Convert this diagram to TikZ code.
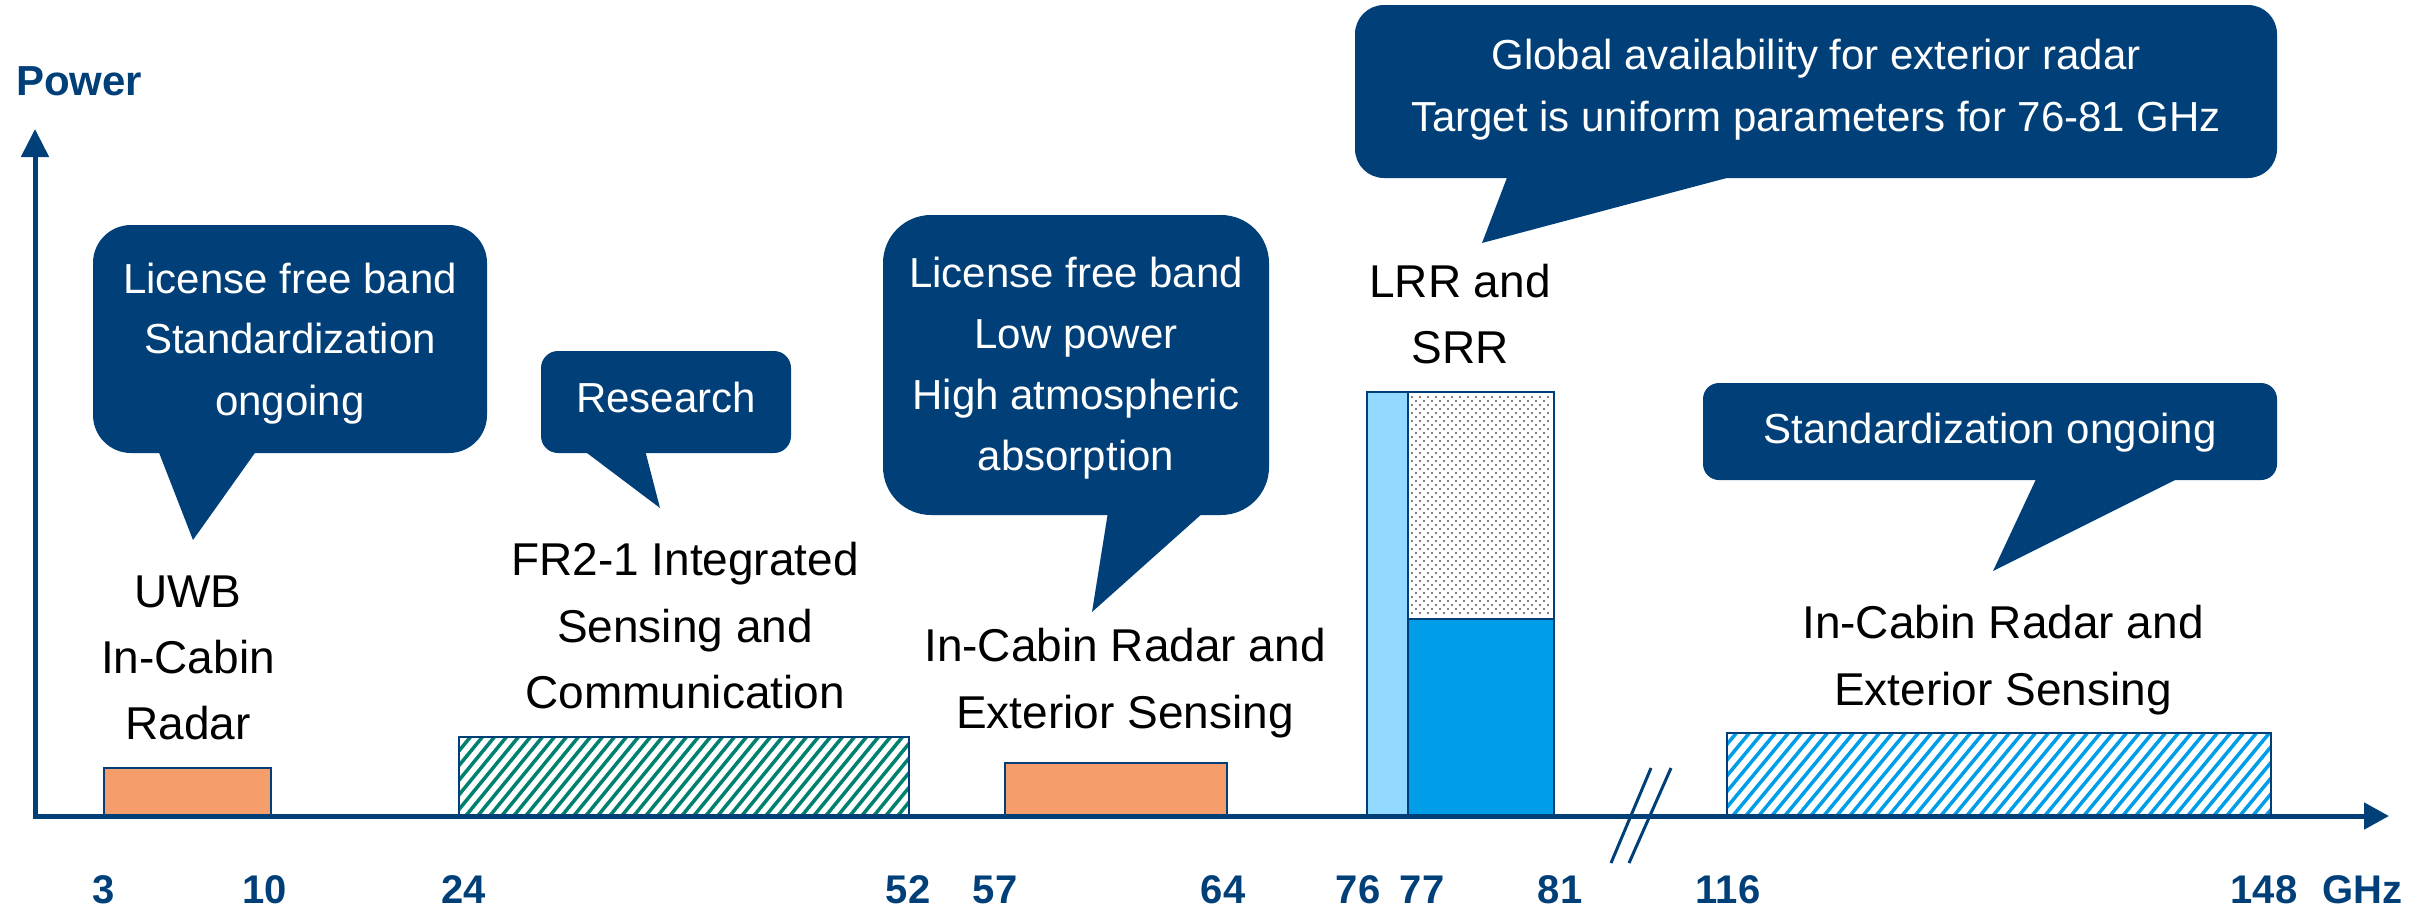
\documentclass[tikz,border=0pt]{standalone}
\usepackage{fontspec}
\setmainfont{Liberation Sans}
\usetikzlibrary{arrows.meta}
\definecolor{navy}{RGB}{0,63,120}
\definecolor{bandorange}{RGB}{245,158,107}
\definecolor{lightblue}{RGB}{145,217,255}
\definecolor{midblue}{RGB}{0,158,232}
\definecolor{hatchgreen}{RGB}{0,128,110}
\definecolor{dotgray}{RGB}{128,128,128}
\tikzset{
  bubble/.style={fill=navy, draw=none, inner sep=0pt},
  btxt/.style={font=\fontsize{42}{50}\selectfont, text=white, inner sep=0pt, anchor=base},
  ltxt/.style={font=\fontsize{46}{55}\selectfont, text=black, inner sep=0pt, anchor=base},
  ticklbl/.style={font=\fontsize{40}{48}\selectfont\bfseries, text=navy, inner sep=0pt, anchor=base},
  bar/.style={draw=navy, line width=2.5pt},
  axisline/.style={draw=navy, line width=5pt},
  breakline/.style={draw=navy, line width=3pt},
}
\begin{document}
\begin{tikzpicture}[x=1pt,y=-1pt]
\useasboundingbox (0,0) rectangle (2431,908);

% ---------- bars ----------
\draw[bar, fill=bandorange] (104,768) rectangle (271,816);
\draw[bar, fill=bandorange] (1005,763) rectangle (1227,816);

% green hatched band
\begin{scope}
  \clip (459,737) rectangle (909,816);
  \foreach \x in {380,392,...,920} \draw[hatchgreen, line width=3.5pt] (\x,818) -- ++(68,-83);
\end{scope}
\draw[bar] (459,737) rectangle (909,816);

% blue hatched band
\begin{scope}
  \clip (1727,733) rectangle (2271,816);
  \foreach \x in {1640,1653,...,2280} \draw[midblue, line width=3.5pt] (\x,818) -- ++(72,-87);
\end{scope}
\draw[bar] (1727,733) rectangle (2271,816);

% LRR / SRR bars
\draw[bar, fill=lightblue] (1367,392) rectangle (1408,816);
\fill[white] (1408,392) rectangle (1554,619);
\foreach \y in {396,404,...,614} {
  \foreach \x in {1411,1419,...,1550} \fill[dotgray] (\x,\y) rectangle ++(1.7,1.7);
}
\foreach \y in {400,408,...,614} {
  \foreach \x in {1415,1423,...,1550} \fill[dotgray] (\x,\y) rectangle ++(1.7,1.7);
}
\draw[bar] (1408,392) rectangle (1554,619);
\draw[bar, fill=midblue] (1408,619) rectangle (1554,816);

% ---------- axes ----------
\coordinate (origin) at (35,816);
\coordinate (xstart) at (33,816);
\coordinate (xend) at (2389,816);
\coordinate (ybot) at (35,818);
\coordinate (yend) at (35,129);
\draw[axisline, -{Triangle[length=25pt,width=26pt]}] (xstart) -- (xend);
\draw[axisline, -{Triangle[length=28pt,width=27pt]}] (ybot) -- (yend);

% axis break
\draw[breakline] (1651,768) -- (1611,863);
\draw[breakline] (1671,768) -- (1629,863);

\node[font=\fontsize{42}{50}\selectfont\bfseries, text=navy, inner sep=0pt, anchor=base west] (power) at (16,95) {Power};

% tick labels
\node[ticklbl] (t3) at (104,903) {3};
\node[ticklbl] (t10) at (265,903) {10};
\node[ticklbl] (t24) at (464,903) {24};
\node[ticklbl] (t52) at (908,903) {52};
\node[ticklbl] (t57) at (995,903) {57};
\node[ticklbl] (t64) at (1223,903) {64};
\node[ticklbl] (t76) at (1358,903) {76};
\node[ticklbl] (t77) at (1422,903) {77};
\node[ticklbl] (t81) at (1560,903) {81};
\node[ticklbl] (t116) at (1728,903) {116};
\node[ticklbl] (t148) at (2264,903) {148};
\node[ticklbl] (tghz) at (2362,903) {GHz};

% ---------- band labels ----------
\node[ltxt] (uwb1) at (188,607) {UWB};
\node[ltxt] (uwb2) at (188,673) {In-Cabin};
\node[ltxt] (uwb3) at (188,739) {Radar};

\node[ltxt] (fr1) at (685,575) {FR2-1 Integrated};
\node[ltxt] (fr2) at (685,642) {Sensing and};
\node[ltxt] (fr3) at (685,708) {Communication};

\node[ltxt] (mid1) at (1125,661) {In-Cabin Radar and};
\node[ltxt] (mid2) at (1125,728) {Exterior Sensing};

\node[ltxt] (lrr1) at (1460,297) {LRR and};
\node[ltxt] (lrr2) at (1460,363) {SRR};

\node[ltxt] (rt1) at (2003,638) {In-Cabin Radar and};
\node[ltxt] (rt2) at (2003,705) {Exterior Sensing};

% ---------- callouts ----------
% bubble 1
\node[bubble, rounded corners=38pt, minimum width=394pt, minimum height=228pt] (b1) at (290,339) {};
\fill[navy] (158,450) -- (193,540) -- (257,450) -- cycle;
\node[btxt] (b1t1) at (290,293) {License free band};
\node[btxt] (b1t2) at (290,353) {Standardization};
\node[btxt] (b1t3) at (290,415) {ongoing};

% bubble 2 (Research)
\node[bubble, rounded corners=17pt, minimum width=250pt, minimum height=102pt] (b2) at (666,402) {};
\fill[navy] (583,450) -- (660,508) -- (645,450) -- cycle;
\node[btxt] (b2t1) at (666,412) {Research};

% bubble 3
\node[bubble, rounded corners=48pt, minimum width=386pt, minimum height=300pt] (b3) at (1076,365) {};
\fill[navy] (1108,512) -- (1092,612) -- (1204,512) -- cycle;
\node[btxt] (b3t1) at (1076,287) {License free band};
\node[btxt] (b3t2) at (1076,348) {Low power};
\node[btxt] (b3t3) at (1076,409) {High atmospheric};
\node[btxt] (b3t4) at (1076,470) {absorption};

% bubble 4 (top)
\node[bubble, rounded corners=29pt, minimum width=922pt, minimum height=173pt] (b4) at (1816,91.5) {};
\fill[navy] (1508,175) -- (1482,243) -- (1738,175) -- cycle;
\node[btxt] (b4t1) at (1816,69) {Global availability for exterior radar};
\node[btxt] (b4t2) at (1816,131) {Target is uniform parameters for 76-81 GHz};

% bubble 5
\node[bubble, rounded corners=16pt, minimum width=574pt, minimum height=97pt] (b5) at (1990,431.5) {};
\fill[navy] (2037,477) -- (1993,571) -- (2181,477) -- cycle;
\node[btxt] (b5t1) at (1990,443) {Standardization ongoing};

\end{tikzpicture}
\end{document}
